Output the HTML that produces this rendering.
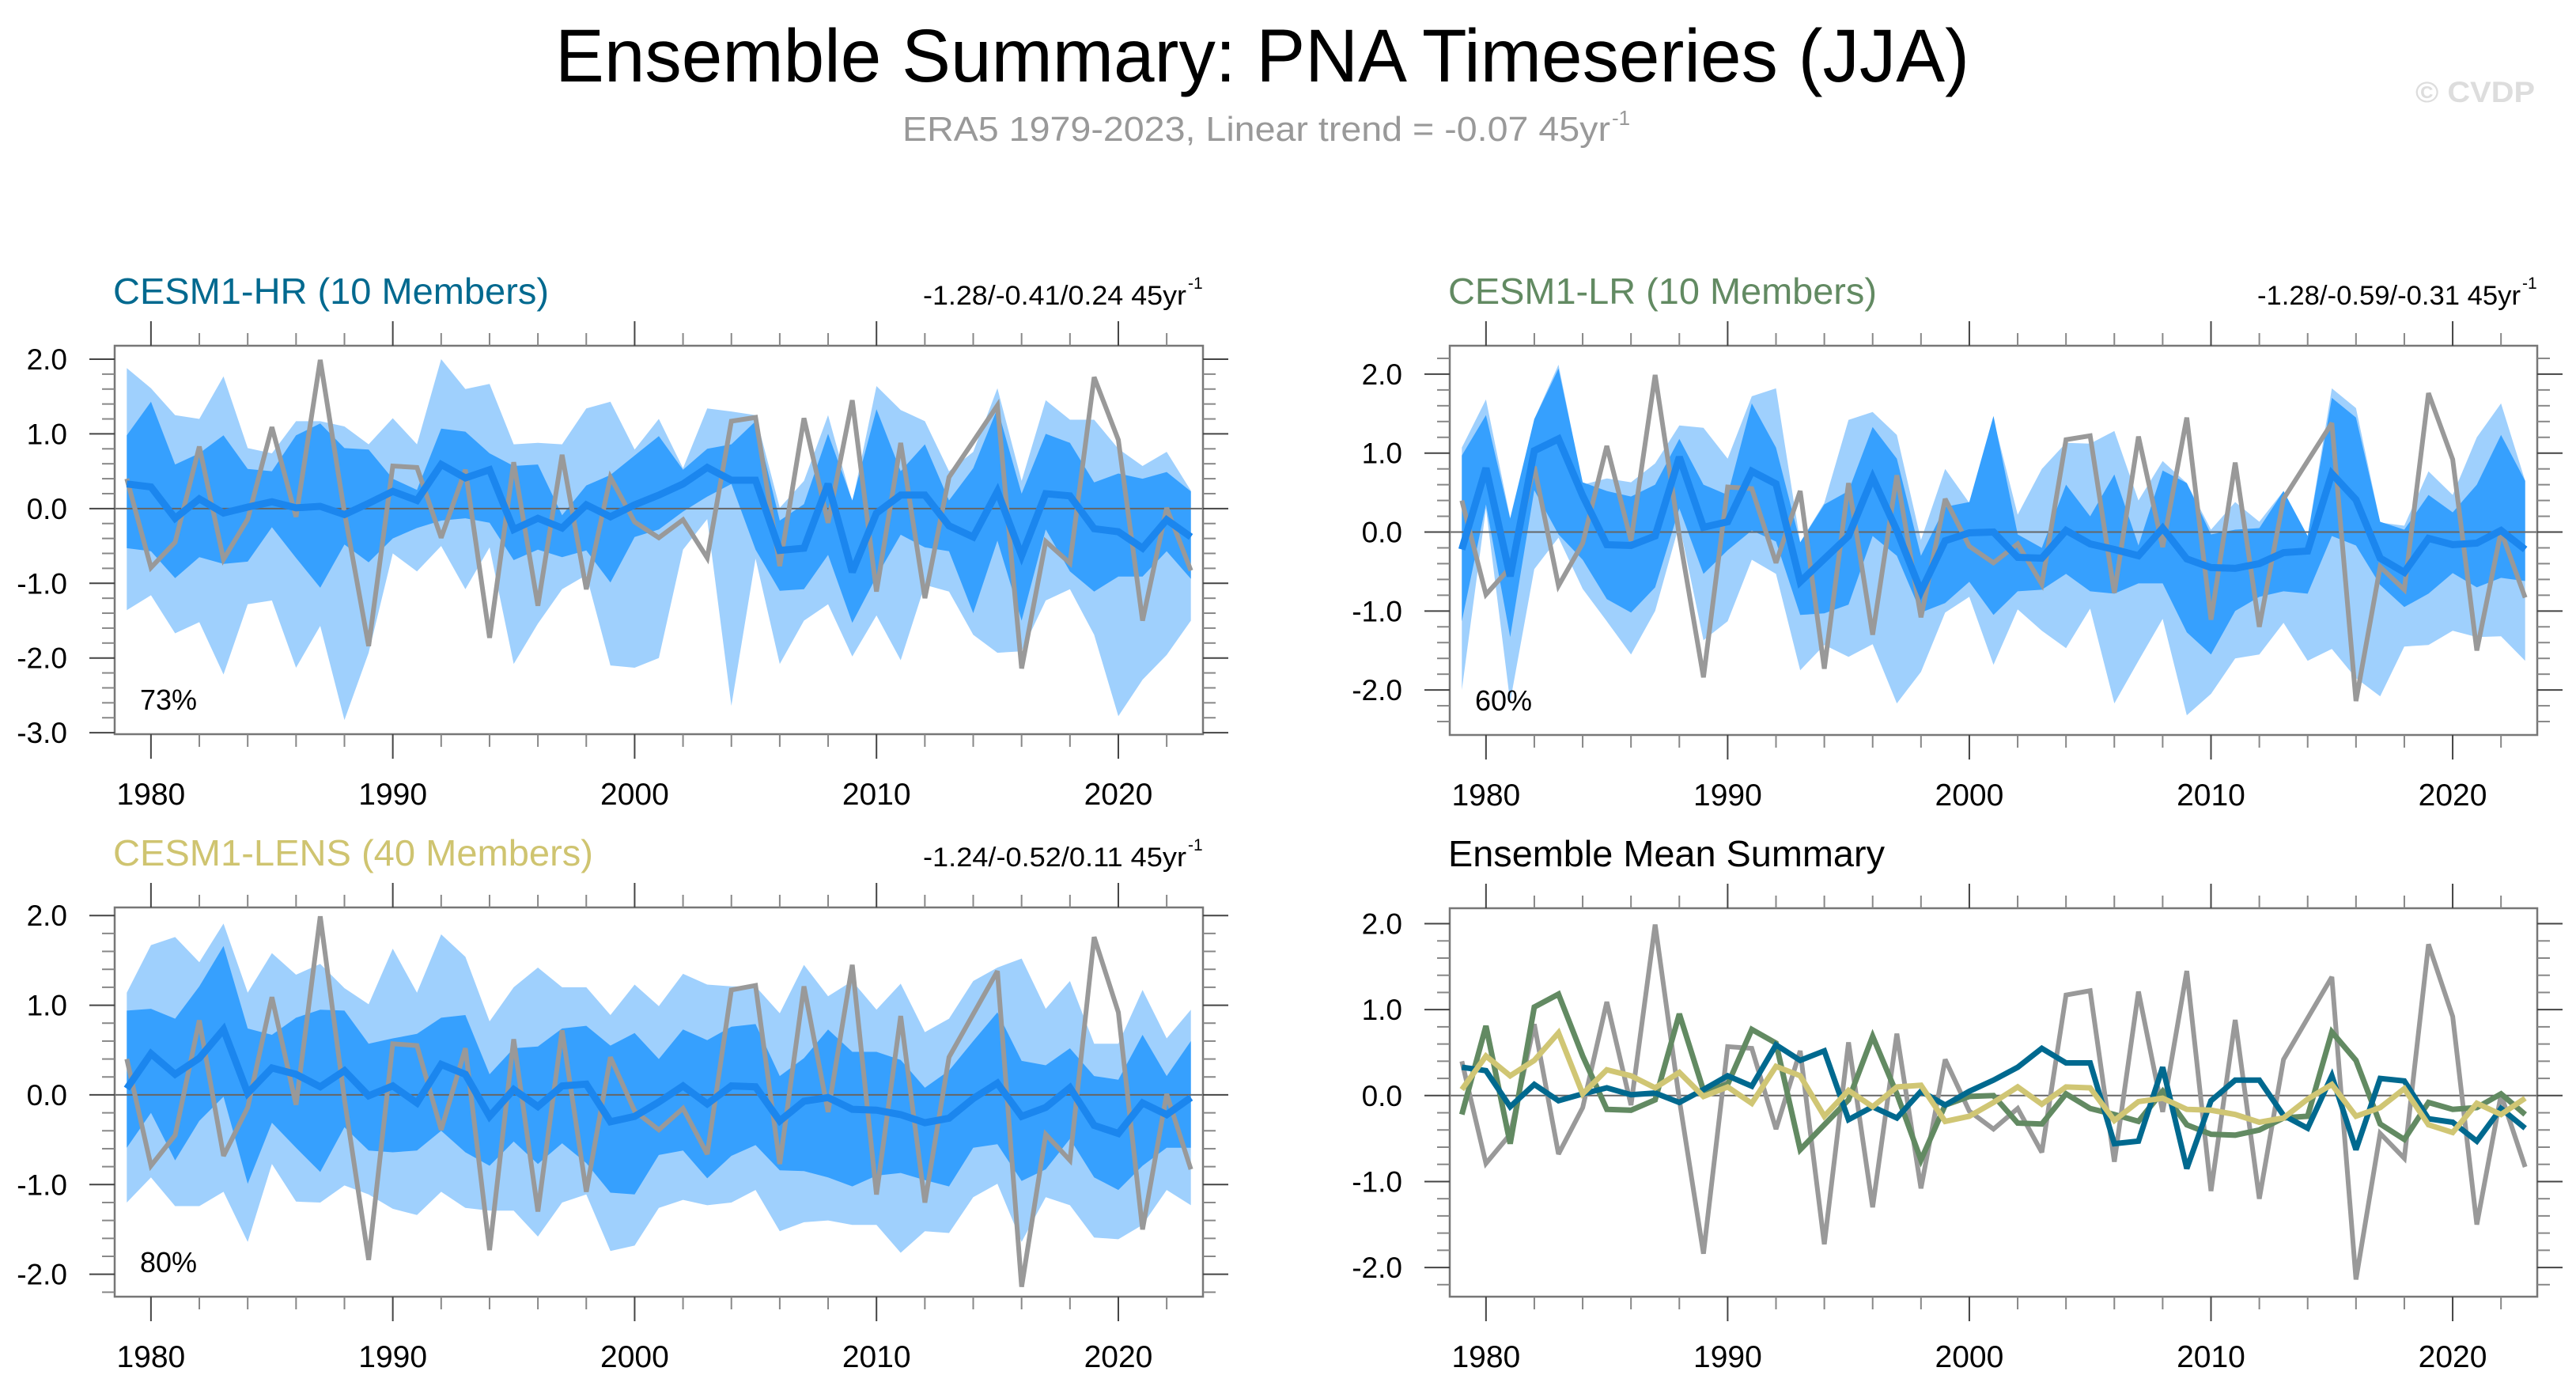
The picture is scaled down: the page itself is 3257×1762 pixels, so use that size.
<!DOCTYPE html>
<html><head><meta charset="utf-8"><style>
html,body{margin:0;padding:0;background:#fff;}
svg{display:block;font-family:"Liberation Sans",Arial,sans-serif;}
</style></head><body>
<svg id="chart" width="3257" height="1762" viewBox="0 0 3257 1762" xmlns="http://www.w3.org/2000/svg">
<rect x="0" y="0" width="3257" height="1762" fill="#fff"/>
<text x="702" y="103" font-size="95" textLength="1788" lengthAdjust="spacingAndGlyphs" fill="#000">Ensemble Summary: PNA Timeseries (JJA)</text>
<text x="1141" y="178" font-size="44" fill="#999" textLength="895" lengthAdjust="spacingAndGlyphs">ERA5 1979-2023, Linear trend = -0.07 45yr</text>
<text x="2038" y="158" font-size="26" fill="#999">-1</text>
<text x="3054" y="129" font-size="37" font-weight="bold" fill="#ddd" textLength="151" lengthAdjust="spacingAndGlyphs">© CVDP</text>
<g id="panels"></g>
</svg>
<script>
const years=[1979,1980,1981,1982,1983,1984,1985,1986,1987,1988,1989,1990,1991,1992,1993,1994,1995,1996,1997,1998,1999,2000,2001,2002,2003,2004,2005,2006,2007,2008,2009,2010,2011,2012,2013,2014,2015,2016,2017,2018,2019,2020,2021,2022,2023];
const obs=[0.40,-0.79,-0.45,0.83,-0.68,-0.14,1.09,-0.11,1.99,-0.05,-1.84,0.57,0.55,-0.39,0.52,-1.73,0.62,-1.30,0.72,-1.08,0.42,-0.18,-0.39,-0.15,-0.66,1.17,1.22,-0.77,1.21,-0.19,1.45,-1.11,0.88,-1.20,0.42,0.90,1.38,-2.14,-0.44,-0.73,1.76,0.92,-1.50,0.01,-0.83];
const hrMean=[0.33,0.29,-0.13,0.13,-0.06,0.02,0.09,0.01,0.03,-0.08,0.07,0.23,0.11,0.59,0.41,0.52,-0.28,-0.13,-0.26,0.05,-0.11,0.05,0.18,0.33,0.55,0.38,0.38,-0.56,-0.53,0.33,-0.85,-0.06,0.18,0.18,-0.23,-0.38,0.23,-0.63,0.20,0.17,-0.27,-0.31,-0.53,-0.15,-0.38];
const hrInnerHi=[0.98,1.43,0.59,0.74,0.98,0.53,0.50,0.98,1.14,0.81,0.79,0.40,0.25,1.07,1.03,0.74,0.57,0.59,-0.09,0.31,0.45,0.71,0.97,0.52,0.80,0.86,1.17,-0.16,0.06,1.00,0.11,1.33,0.50,0.86,0.11,0.54,1.34,0.20,1.00,0.88,0.35,0.47,0.40,0.49,0.23];
const hrInnerLo=[-0.53,-0.57,-0.93,-0.65,-0.74,-0.71,-0.25,-0.66,-1.06,-0.48,-0.72,-0.40,-0.26,-0.16,-0.13,-0.19,-0.69,-0.55,-0.65,-0.56,-0.99,-0.38,-0.28,-0.04,0.16,0.33,-0.55,-1.10,-1.08,-0.62,-1.53,-0.91,-0.35,-0.52,-0.57,-1.40,-0.43,-1.50,-0.28,-0.84,-1.11,-0.91,-0.91,-0.57,-0.94];
const hrOuterHi=[1.88,1.61,1.25,1.20,1.77,0.81,0.74,1.17,1.17,1.10,0.86,1.21,0.86,2.00,1.60,1.67,0.86,0.88,0.86,1.34,1.43,0.79,1.20,0.54,1.34,1.30,1.25,0.01,0.37,1.25,0.08,1.64,1.32,1.17,0.50,0.76,1.61,0.37,1.45,1.19,1.19,0.80,0.57,0.76,0.24];
const hrOuterLo=[-1.36,-1.16,-1.67,-1.52,-2.22,-1.28,-1.23,-2.13,-1.57,-2.83,-1.93,-0.60,-0.84,-0.50,-1.08,-0.52,-2.08,-1.54,-1.08,-0.89,-2.10,-2.13,-2.00,-0.55,-0.14,-2.64,-0.67,-2.08,-1.50,-1.28,-1.98,-1.43,-2.03,-1.02,-1.11,-1.69,-1.93,-1.91,-1.23,-1.08,-1.69,-2.78,-2.29,-1.96,-1.50];
const lrMean=[-0.22,0.81,-0.56,1.03,1.18,0.46,-0.16,-0.17,-0.05,0.95,0.06,0.13,0.77,0.61,-0.63,-0.34,-0.05,0.69,0.02,-0.75,-0.11,-0.01,0.00,-0.32,-0.33,0.02,-0.15,-0.22,-0.30,0.05,-0.34,-0.45,-0.46,-0.40,-0.26,-0.24,0.74,0.41,-0.33,-0.51,-0.08,-0.16,-0.14,0.02,-0.22];
const lrInnerHi=[0.97,1.48,0.17,1.43,2.07,0.63,0.52,0.45,0.60,1.18,0.60,0.47,1.63,1.07,-0.13,0.35,0.52,1.33,0.93,-0.30,0.32,0.38,1.47,-0.03,-0.20,0.60,0.20,0.73,-0.17,0.78,0.62,-0.03,0.03,0.05,0.52,-0.05,1.70,1.45,0.13,0.03,0.47,0.25,0.60,1.23,0.65];
const lrInnerLo=[-1.13,0.35,-1.33,0.53,-0.03,-0.35,-0.85,-1.02,-0.70,0.30,-0.53,-0.23,0.02,-0.12,-1.05,-1.03,-0.92,-0.05,-0.30,-1.02,-0.90,-0.63,-1.05,-0.75,-0.73,-0.53,-0.75,-0.78,-0.65,-0.65,-1.27,-1.55,-1.00,-0.82,-0.75,-0.78,-0.05,-0.17,-0.67,-0.95,-0.78,-0.52,-0.70,-0.58,-0.62];
const lrOuterHi=[1.07,1.68,0.18,1.43,2.12,0.60,0.68,0.63,0.87,1.35,1.32,0.93,1.72,1.82,-0.13,0.37,1.42,1.52,1.23,-0.10,0.80,0.37,1.43,0.22,0.80,1.13,1.12,1.28,0.40,0.90,0.62,0.03,0.38,0.13,0.52,-0.05,1.82,1.57,0.12,0.08,0.77,0.47,1.20,1.63,0.65];
const lrOuterLo=[-2.00,0.30,-2.15,-0.47,-0.07,-0.72,-1.13,-1.55,-1.00,0.10,-1.37,-1.13,-0.35,-0.53,-1.75,-1.43,-1.58,-1.42,-2.17,-1.77,-1.02,-0.82,-1.68,-0.98,-1.25,-1.47,-0.97,-2.17,-1.63,-1.10,-2.32,-2.05,-1.60,-1.55,-1.15,-1.63,-1.48,-1.85,-2.08,-1.45,-1.43,-1.25,-1.33,-1.32,-1.63];
const lensMean=[0.07,0.46,0.23,0.41,0.73,0.02,0.30,0.23,0.09,0.27,-0.01,0.10,-0.09,0.34,0.23,-0.24,0.06,-0.13,0.10,0.12,-0.30,-0.24,-0.08,0.10,-0.10,0.10,0.09,-0.29,-0.07,-0.03,-0.16,-0.17,-0.22,-0.31,-0.26,-0.04,0.13,-0.24,-0.14,0.08,-0.34,-0.43,-0.09,-0.22,-0.03];
const lensInnerHi=[0.94,0.96,0.85,1.21,1.66,0.74,0.67,0.86,0.95,0.94,0.57,0.63,0.68,0.86,0.89,0.23,0.52,0.54,0.74,0.77,0.55,0.69,0.40,0.73,0.61,0.76,0.79,0.21,0.41,0.73,0.48,0.48,0.39,0.08,0.27,0.60,0.92,0.38,0.33,0.52,0.21,0.17,0.67,0.21,0.60];
const lensInnerLo=[-0.59,-0.20,-0.73,-0.29,-0.02,-0.99,-0.31,-0.59,-0.86,-0.36,-0.62,-0.64,-0.62,-0.40,-0.64,-0.79,-0.52,-0.77,-0.54,-0.76,-1.09,-1.11,-0.67,-0.62,-0.93,-0.68,-0.56,-0.84,-0.85,-0.92,-1.02,-0.90,-0.87,-0.95,-1.02,-0.59,-0.55,-0.96,-0.83,-0.49,-0.92,-1.06,-0.79,-0.59,-0.59];
const lensOuterHi=[1.14,1.67,1.76,1.48,1.91,1.14,1.58,1.34,1.46,1.19,1.01,1.63,1.14,1.79,1.54,0.82,1.20,1.42,1.20,1.20,0.89,1.23,0.99,1.35,1.23,1.21,1.21,0.91,1.45,1.10,1.27,0.95,1.24,0.70,0.85,1.27,1.42,1.52,0.96,1.27,0.57,0.57,1.17,0.63,0.95];
const lensOuterLo=[-1.20,-0.92,-1.24,-1.24,-1.08,-1.64,-0.77,-1.19,-1.20,-1.01,-1.11,-1.27,-1.34,-1.08,-1.26,-1.29,-1.29,-1.58,-1.20,-1.11,-1.74,-1.68,-1.26,-1.17,-1.23,-1.20,-1.06,-1.52,-1.42,-1.40,-1.45,-1.45,-1.76,-1.52,-1.54,-1.14,-0.99,-1.64,-1.14,-1.23,-1.59,-1.61,-1.45,-1.06,-1.23];
const xTickYears=[1980,1990,2000,2010,2020];
const xTickLabels=["1980","1990","2000","2010","2020"];
const yTicksHR=[2,1,0,-1,-2,-3];
const yTicksOther=[2,1,0,-1,-2];

const NS="http://www.w3.org/2000/svg";
const root=document.getElementById('panels');
function mk(tag,attrs,parent){const e=document.createElementNS(NS,tag);for(const k in attrs)e.setAttribute(k,attrs[k]);(parent||root).appendChild(e);return e;}

function drawPanel(p){
  const g=mk('g',{});
  
  
  const X=v=>p.x0+(v-1978.5)/(2023.5-1978.5)*(p.x1-p.x0);
  const Y=v=>p.y0+(p.ymax-v)/(p.ymax-p.ymin)*(p.y1-p.y0);
  const cid='clip-'+p.name;
  const cp=mk('clipPath',{id:cid},g);
  mk('rect',{x:p.x0,y:p.y0,width:p.x1-p.x0,height:p.y1-p.y0},cp);
  const inner=mk('g',{'clip-path':'url(#'+cid+')'},g);
  function band(hi,lo,color,nm){
    let pts=[];
    for(let i=0;i<years.length;i++)pts.push(X(years[i]).toFixed(1)+','+Y(hi[i]).toFixed(1));
    for(let i=years.length-1;i>=0;i--)pts.push(X(years[i]).toFixed(1)+','+Y(lo[i]).toFixed(1));
    const el=mk('polygon',{points:pts.join(' '),fill:color},inner);
    
    
  }
  function line(vals,color,w,nm){
    const pts=vals.map((v,i)=>X(years[i]).toFixed(1)+','+Y(v).toFixed(1)).join(' ');
    const el=mk('polyline',{points:pts,fill:'none',stroke:color,'stroke-width':w,'stroke-linejoin':'miter','stroke-miterlimit':'3'},inner);
    
    
  }
  if(p.bands){
    band(p.bands[0],p.bands[1],'#9fd0fd','outer-spread-band');
    band(p.bands[2],p.bands[3],'#36a0fe','inner-spread-band');
  }
  const z=mk('line',{x1:p.x0,x2:p.x1,y1:Y(0),y2:Y(0),stroke:'#666','stroke-width':2},inner);
  
  
  line(obs,'#999',6,'era5-observed-line');
  if(p.bands){line(p.mean,'#1b86ee',9,'ensemble-mean-line');}
  else{
    line(lrMean,'#628a62',7,'cesm1-lr-mean-line');
    line(hrMean,'#00698f',7,'cesm1-hr-mean-line');
    line(lensMean,'#d0c674',7,'cesm1-lens-mean-line');
  }
  const bx=mk('rect',{x:p.x0,y:p.y0,width:p.x1-p.x0,height:p.y1-p.y0,fill:'none',stroke:'#777','stroke-width':2.5},g);
  
  
  for(let yr=1980;yr<=2022;yr+=2){
    const major=yr%10===0, L=major?31:16, x=X(yr);
    mk('line',{x1:x,x2:x,y1:p.y0,y2:p.y0-L,stroke:major?'#444':'#888','stroke-width':2},g);
    mk('line',{x1:x,x2:x,y1:p.y1,y2:p.y1+L,stroke:major?'#444':'#888','stroke-width':2},g);
  }
  xTickYears.forEach((yr,i)=>{
    const t=mk('text',{x:X(yr),y:p.y1+89,'font-size':39,'text-anchor':'middle',fill:'#000'},g);
    t.textContent=xTickLabels[i];
    
    
  });
  for(let k=Math.ceil(p.ymin*5);k<=Math.floor(p.ymax*5);k++){
    const v=k/5, major=k%5===0, L=major?32:16, y=Y(v);
    mk('line',{x1:p.x0,x2:p.x0-L,y1:y,y2:y,stroke:major?'#444':'#888','stroke-width':2},g);
    mk('line',{x1:p.x1,x2:p.x1+L,y1:y,y2:y,stroke:major?'#444':'#888','stroke-width':2},g);
  }
  p.yticks.forEach(v=>{
    const t=mk('text',{x:p.x0-60,y:Y(v)+13,'font-size':37,'text-anchor':'end',fill:'#000'},g);
    t.textContent=v.toFixed(1);
    
    
  });
  const tt=mk('text',{x:p.x0-2,y:p.y0-53,'font-size':46,fill:p.titleColor,textLength:p.titleW,lengthAdjust:'spacingAndGlyphs'},g);
  tt.textContent=p.title;
  
  
  if(p.trend){
    const tr=mk('text',{x:p.x1-354,y:p.y0-52,'font-size':34,fill:'#000',textLength:333,lengthAdjust:'spacingAndGlyphs'},g);
    tr.textContent=p.trend;
    
    
    const sp=mk('text',{x:p.x1-19,y:p.y0-72,'font-size':21,fill:'#000'},g);
    sp.textContent='-1';
    
    
  }
  if(p.pct){
    const pc=mk('text',{x:p.x0+32,y:p.y1-31,'font-size':36,fill:'#000'},g);
    pc.textContent=p.pct;
    
    
  }
}
drawPanel({name:'cesm1-hr-panel',x0:145,x1:1521,y0:437,y1:928,ymax:2.18,ymin:-3.02,yticks:yTicksHR,
  bands:[hrOuterHi,hrOuterLo,hrInnerHi,hrInnerLo],mean:hrMean,title:'CESM1-HR (10 Members)',titleW:551,titleColor:'#00698f',
  trend:'-1.28/-0.41/0.24 45yr',pct:'73%'});
drawPanel({name:'cesm1-lr-panel',x0:1833,x1:3208,y0:437,y1:929,ymax:2.36,ymin:-2.57,yticks:yTicksOther,
  bands:[lrOuterHi,lrOuterLo,lrInnerHi,lrInnerLo],mean:lrMean,title:'CESM1-LR (10 Members)',titleW:542,titleColor:'#628a62',
  trend:'-1.28/-0.59/-0.31 45yr',pct:'60%'});
drawPanel({name:'cesm1-lens-panel',x0:145,x1:1521,y0:1147,y1:1639,ymax:2.09,ymin:-2.25,yticks:yTicksOther,
  bands:[lensOuterHi,lensOuterLo,lensInnerHi,lensInnerLo],mean:lensMean,title:'CESM1-LENS (40 Members)',titleW:607,titleColor:'#cfc470',
  trend:'-1.24/-0.52/0.11 45yr',pct:'80%'});
drawPanel({name:'ensemble-mean-summary-panel',x0:1833,x1:3208,y0:1148,y1:1639,ymax:2.18,ymin:-2.34,yticks:yTicksOther,
  bands:null,title:'Ensemble Mean Summary',titleW:552,titleColor:'#000',trend:null,pct:null});
</script>
</body></html>
